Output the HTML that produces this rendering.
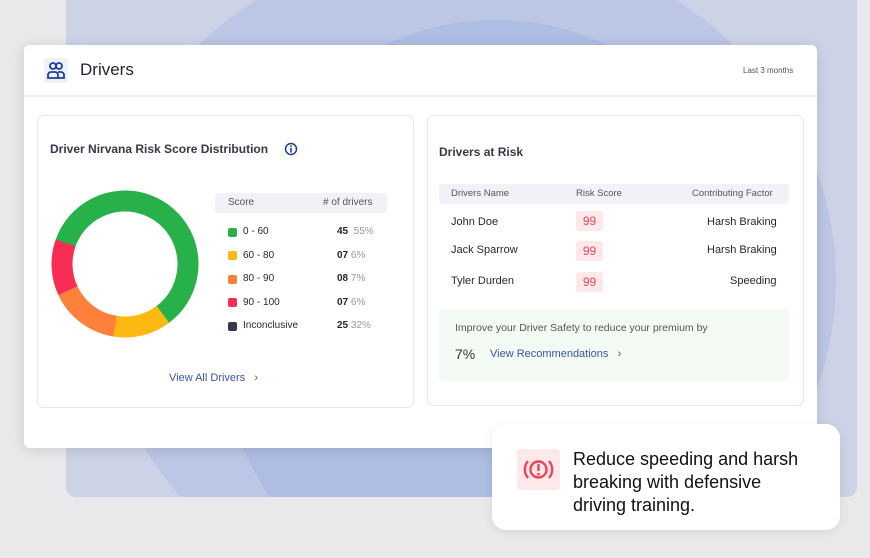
<!DOCTYPE html>
<html style="overflow:hidden"><head><style>
*{margin:0;padding:0;box-sizing:border-box}
html,body{width:870px;height:558px}
body{background:#e9e9eb;font-family:"Liberation Sans",sans-serif;position:relative;overflow:hidden;color:#1f2430}
.abs{position:absolute}
.bg{left:66px;top:0;width:791px;height:497px;border-radius:0 0 10px 10px;background:#cdd3e7;overflow:hidden}
.card{left:24px;top:45px;width:793px;height:403px;background:#fff;border-radius:6px;box-shadow:0 2px 14px rgba(0,0,0,.12)}
.panel{background:#fff;border:1px solid #e4e6ec;border-radius:7px}
.t{position:absolute;white-space:nowrap}
.sw{position:absolute;width:9px;height:9px;border-radius:2px;left:228px}
.pill{position:absolute;left:576px;width:27px;height:20px;background:#fde8ea;color:#f0435a;font-size:12px;text-align:center;line-height:20px;border-radius:3px}
</style></head><body>
<div class="abs bg">
 <div class="abs" style="left:30px;top:-60px;width:740px;height:680px;border-radius:50%;background:#bcc6e5"></div>
 <div class="abs" style="left:150px;top:20px;width:560px;height:600px;border-radius:50%;background:#aebde4"></div>
</div>
<div class="abs card"></div>
<div class="abs" style="left:44px;top:58px;width:24px;height:25px;background:#eef1f8;border-radius:3px"></div>
<svg class="abs" style="left:47px;top:61px" width="18" height="19" viewBox="0 0 18 19"><g fill="none" stroke="#1f3b9a" stroke-width="1.8"><circle cx="6" cy="5" r="3"/><circle cx="12" cy="5" r="3"/><path d="M1 17v-3a3 3 0 0 1 3-3h4a3 3 0 0 1 3 3v3zM11 11h3a3 3 0 0 1 3 3v3h-6"/></g></svg>
<div class="t" style="left:80px;top:60px;font-size:17px;color:#1c2230">Drivers</div>
<div class="t" style="left:743px;top:66px;font-size:8px;color:#555">Last 3 months</div>
<div class="abs" style="left:24px;top:95px;width:793px;height:2px;background:#eef0f4"></div>

<div class="abs panel" style="left:37px;top:115px;width:377px;height:293px"></div>
<div class="t" style="left:50px;top:142px;font-size:12px;font-weight:bold;color:#333a46">Driver Nirvana Risk Score Distribution</div>
<svg class="abs" style="left:284px;top:142px" width="14" height="14"><circle cx="7" cy="7" r="5.5" fill="none" stroke="#1f3b9a" stroke-width="1.5"/><rect x="6.2" y="6" width="1.6" height="4.5" fill="#1f3b9a"/><rect x="6.2" y="3.4" width="1.6" height="1.6" fill="#1f3b9a"/></svg>
<svg class="abs" style="left:40px;top:180px" width="170" height="170" viewBox="-85 -84 170 170">
<g fill="none" stroke-width="21">
<circle r="63" stroke="#28b04b" stroke-dasharray="236 400" transform="rotate(199)"/>
<circle r="63" stroke="#fdb913" stroke-dasharray="51 400" transform="rotate(53)"/>
<circle r="63" stroke="#fd813b" stroke-dasharray="62 400" transform="rotate(99)"/>
<circle r="63" stroke="#f72d53" stroke-dasharray="49 400" transform="rotate(155)"/>
</g></svg>
<div class="abs" style="left:215px;top:193px;width:172px;height:20px;background:#f0f2f7;border-radius:3px"></div>
<div class="t" style="left:228px;top:197px;font-size:10px;color:#555">Score</div>
<div class="t" style="left:323px;top:197px;font-size:10px;color:#555"># of drivers</div>
<div class="sw" style="top:228px;background:#28b04b"></div><div class="t" style="left:243px;top:226px;font-size:10px">0 - 60</div><div class="t" style="left:337px;top:226px;font-size:10px"><b>45</b> <span style="color:#999">&nbsp;55%</span></div>
<div class="sw" style="top:251px;background:#fdb913"></div><div class="t" style="left:243px;top:250px;font-size:10px">60 - 80</div><div class="t" style="left:337px;top:250px;font-size:10px"><b>07</b> <span style="color:#999">6%</span></div>
<div class="sw" style="top:275px;background:#fd813b"></div><div class="t" style="left:243px;top:273px;font-size:10px">80 - 90</div><div class="t" style="left:337px;top:273px;font-size:10px"><b>08</b> <span style="color:#999">7%</span></div>
<div class="sw" style="top:298px;background:#f72d53"></div><div class="t" style="left:243px;top:297px;font-size:10px">90 - 100</div><div class="t" style="left:337px;top:297px;font-size:10px"><b>07</b> <span style="color:#999">6%</span></div>
<div class="sw" style="top:322px;background:#333a4c"></div><div class="t" style="left:243px;top:320px;font-size:10px">Inconclusive</div><div class="t" style="left:337px;top:320px;font-size:10px"><b>25</b> <span style="color:#999">32%</span></div>
<div class="t" style="left:169px;top:372px;font-size:11px;color:#3a55a5">View All Drivers &nbsp;&nbsp;›</div>

<div class="abs panel" style="left:427px;top:115px;width:377px;height:291px"></div>
<div class="t" style="left:439px;top:145px;font-size:12px;font-weight:bold;color:#333a46">Drivers at Risk</div>
<div class="abs" style="left:439px;top:184px;width:350px;height:20px;background:#f0f2f7;border-radius:3px"></div>
<div class="t" style="left:451px;top:188px;font-size:9.5px;color:#555">Drivers Name</div>
<div class="t" style="left:576px;top:188px;font-size:9.5px;color:#555">Risk Score</div>
<div class="t" style="left:692px;top:188px;font-size:9.5px;color:#555">Contributing Factor</div>
<div class="t" style="left:451px;top:216px;font-size:11px">John Doe</div><div class="pill" style="top:211px">99</div><div class="t" style="left:707px;top:216px;font-size:11px">Harsh Braking</div>
<div class="t" style="left:451px;top:244px;font-size:11px">Jack Sparrow</div><div class="pill" style="top:241px">99</div><div class="t" style="left:707px;top:244px;font-size:11px">Harsh Braking</div>
<div class="t" style="left:451px;top:275px;font-size:11px">Tyler Durden</div><div class="pill" style="top:272px">99</div><div class="t" style="left:730px;top:275px;font-size:11px">Speeding</div>
<div class="abs" style="left:439px;top:309px;width:350px;height:72px;background:#f3fbf4;border-radius:3px"></div>
<div class="t" style="left:455px;top:322px;font-size:10.5px;color:#555">Improve your Driver Safety to reduce your premium by</div>
<div class="t" style="left:455px;top:346px;font-size:14px;color:#333">7%</div>
<div class="t" style="left:490px;top:348px;font-size:11px;color:#3a55a5">View Recommendations &nbsp;&nbsp;›</div>

<div class="abs" style="left:492px;top:424px;width:348px;height:106px;background:#fff;border-radius:14px;box-shadow:0 2px 10px rgba(0,0,0,.08)"></div>
<div class="abs" style="left:517px;top:449px;width:43px;height:41px;background:#fde8ea;border-radius:4px"></div>
<svg class="abs" style="left:520px;top:452px" width="37" height="35" viewBox="0 0 37 35"><g fill="none" stroke="#f0435a" stroke-width="2.4"><circle cx="18.5" cy="17.5" r="8"/><path d="M8 9a13 13 0 0 0 0 17M29 9a13 13 0 0 1 0 17"/></g><rect x="17.3" y="12" width="2.4" height="7" fill="#f0435a"/><rect x="17.3" y="21" width="2.4" height="2.4" fill="#f0435a"/></svg>
<div class="t" style="left:573px;top:448px;font-size:18px;line-height:23px;color:#111">Reduce speeding and harsh<br>breaking with defensive<br>driving training.</div>
</body></html>
